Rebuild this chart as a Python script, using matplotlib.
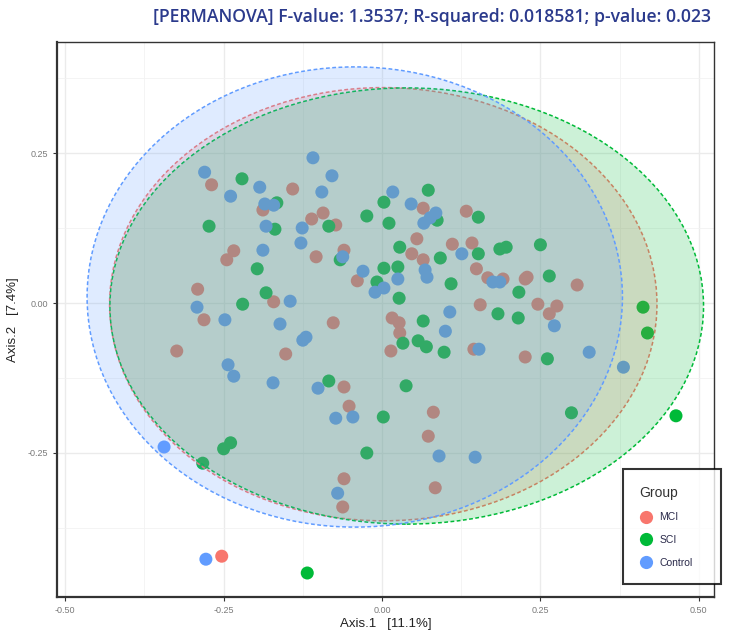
import matplotlib
matplotlib.use("Agg")
import matplotlib.pyplot as plt
from matplotlib.patches import Ellipse
from matplotlib.lines import Line2D
import numpy as np

plt.rcParams['font.family'] = ['Liberation Sans', 'DejaVu Sans']

groups = ["MCI", "SCI", "Control"]
colors = {"MCI": "#F8766D", "SCI": "#00BA38", "Control": "#619CFF"}

mci_x = [-0.269, -0.141, -0.188, -0.111, -0.093, -0.073, -0.234, -0.245, -0.291, -0.171,
         -0.281, -0.324, -0.152, -0.104, -0.060, -0.039, -0.077, -0.060, -0.052, -0.060,
         -0.062, 0.014, 0.028, 0.016, 0.027, 0.065, 0.133, 0.055, 0.047, 0.065,
         0.111, 0.142, 0.149, 0.167, 0.191, 0.226, 0.229, 0.308, 0.155, 0.246,
         0.276, 0.264, 0.145, 0.226, 0.081, 0.073, 0.084, -0.253]
mci_y = [0.197, 0.190, 0.155, 0.140, 0.150, 0.130, 0.087, 0.072, 0.023, 0.002,
         -0.028, -0.080, -0.085, 0.077, 0.088, 0.037, -0.033, -0.140, -0.172, -0.293,
         -0.340, -0.080, -0.050, -0.025, -0.033, 0.158, 0.153, 0.107, 0.082, 0.072,
         0.098, 0.100, 0.057, 0.042, 0.040, 0.040, 0.043, 0.030, -0.003, -0.002,
         -0.005, -0.018, -0.077, -0.090, -0.182, -0.222, -0.308, -0.422]

sci_x = [-0.221, -0.166, -0.273, -0.169, -0.197, -0.183, -0.220, -0.084, -0.024, 0.003,
         0.011, 0.073, 0.087, 0.152, -0.066, -0.008, 0.003, 0.025, 0.027, 0.028,
         0.092, 0.152, 0.109, 0.186, 0.196, 0.250, 0.264, 0.216, 0.183, 0.215,
         0.065, 0.033, 0.057, 0.070, 0.098, 0.261, -0.084, 0.038, 0.002, -0.024,
         0.299, 0.412, 0.419, 0.464, -0.283, -0.250, -0.239, -0.118]
sci_y = [0.207, 0.167, 0.128, 0.123, 0.057, 0.017, -0.002, 0.128, 0.145, 0.168,
         0.133, 0.188, 0.138, 0.143, 0.072, 0.035, 0.058, 0.060, 0.008, 0.093,
         0.075, 0.082, 0.032, 0.090, 0.093, 0.097, 0.045, 0.018, -0.018, -0.025,
         -0.030, -0.067, -0.063, -0.073, -0.082, -0.093, -0.130, -0.138, -0.190, -0.250,
         -0.183, -0.007, -0.050, -0.188, -0.267, -0.243, -0.233, -0.450]

ctl_x = [-0.280, -0.239, -0.193, -0.185, -0.171, -0.183, -0.126, -0.128, -0.188, -0.109,
         -0.079, -0.095, 0.017, 0.046, 0.066, 0.076, 0.085, -0.062, -0.030, -0.011,
         0.003, 0.025, 0.068, 0.071, 0.126, 0.175, 0.186, 0.107, 0.100, 0.153,
         0.272, 0.327, 0.381, -0.145, -0.292, -0.248, -0.161, -0.125, -0.120, -0.243,
         -0.234, -0.172, -0.101, -0.073, -0.046, -0.070, 0.090, 0.147, -0.344, -0.278]
ctl_y = [0.218, 0.178, 0.193, 0.165, 0.163, 0.128, 0.125, 0.100, 0.088, 0.242,
         0.212, 0.185, 0.185, 0.165, 0.133, 0.142, 0.150, 0.077, 0.053, 0.018,
         0.025, 0.040, 0.055, 0.043, 0.082, 0.035, 0.035, -0.015, -0.047, -0.077,
         -0.038, -0.082, -0.107, 0.003, -0.007, -0.028, -0.035, -0.062, -0.057, -0.103,
         -0.122, -0.133, -0.142, -0.192, -0.190, -0.317, -0.255, -0.257, -0.240, -0.427]

# ellipse parameters (center x, center y, width, height)
ell_cx = {"MCI": 0.002, "SCI": 0.039, "Control": -0.043}
ell_cy = {"MCI": -0.002, "SCI": -0.005, "Control": 0.010}
ell_w = {"MCI": 0.864, "SCI": 0.937, "Control": 0.845}
ell_h = {"MCI": 0.722, "SCI": 0.727, "Control": 0.767}

data = {"MCI": (mci_x, mci_y), "SCI": (sci_x, sci_y), "Control": (ctl_x, ctl_y)}

x_ticks = [-0.50, -0.25, 0.00, 0.25, 0.50]
y_ticks = [-0.25, 0.00, 0.25]

fig = plt.figure(figsize=(7.29, 6.33), dpi=100)
ax = fig.add_axes([57/729, 1-597/633, (714-57)/729, (597-42)/633])

ax.set_xlim(-0.513, 0.524)
ax.set_ylim(-0.49, 0.435)

# grid
for v in x_ticks:
    ax.axvline(v, color="#ebebeb", lw=1.0, zorder=0)
for v in [-0.375, -0.125, 0.125, 0.375]:
    ax.axvline(v, color="#f2f2f2", lw=0.6, zorder=0)
for v in y_ticks:
    ax.axhline(v, color="#ebebeb", lw=1.0, zorder=0)
for v in [-0.375, -0.125, 0.125, 0.375]:
    ax.axhline(v, color="#f2f2f2", lw=0.6, zorder=0)

for g in groups:
    xs, ys = data[g]
    ax.scatter(xs, ys, s=88, color=colors[g], edgecolors='none', zorder=2)

for g in groups:
    e = Ellipse((ell_cx[g], ell_cy[g]), ell_w[g], ell_h[g], zorder=3)
    e.set_facecolor(matplotlib.colors.to_rgba(colors[g], 0.2))
    e.set_edgecolor(colors[g])
    e.set_linestyle((0, (2.5, 1.6)))
    e.set_linewidth(1.1)
    ax.add_patch(e)

ax.set_xticks(x_ticks)
ax.set_xticklabels(["-0.50", "-0.25", "0.00", "0.25", "0.50"])
ax.set_yticks(y_ticks)
ax.set_yticklabels(["-0.25", "0.00", "0.25"])
ax.tick_params(labelsize=6.5, labelcolor="#7a7a7a", color="#333333", length=3, width=0.8)
for sp in ax.spines.values():
    sp.set_color("#333333")
    sp.set_linewidth(1.0)
ax.spines['left'].set_linewidth(1.6)
ax.spines['bottom'].set_linewidth(1.6)

ax.set_xlabel("Axis.1   [11.1%]", fontsize=9.5, color="#222222", labelpad=2)
ax.set_ylabel("Axis.2   [7.4%]", fontsize=9.5, color="#222222", labelpad=6)

fig.text(432/729, 1-17/633,
         "[PERMANOVA] F-value: 1.3537; R-squared: 0.018581; p-value: 0.023",
         ha="center", va="center", fontsize=12.7, fontweight="semibold",
         color="#2b3a8c", family=["Open Sans", "DejaVu Sans"])

handles = [Line2D([0], [0], marker='o', linestyle='none', markersize=9.5,
                  markerfacecolor=colors[g], markeredgecolor='none') for g in groups]
leg = fig.legend(handles, groups, title="Group",
                 loc="upper left",
                 bbox_to_anchor=(623/729, 1-585/633, 98/729, 116/633),
                 mode="expand",
                 frameon=True, fancybox=False, fontsize=7.5, title_fontsize=10,
                 borderpad=1.6, labelspacing=1.22, handletextpad=0.7,
                 handlelength=1.2, borderaxespad=0)
leg.get_frame().set_edgecolor("black")
leg.get_frame().set_linewidth(1.5)
leg._legend_box.align = "left"
for t in leg.get_texts():
    t.set_color("#2a2a4a")
leg.get_title().set_color("#333333")

fig.savefig("out.png", dpi=100)
